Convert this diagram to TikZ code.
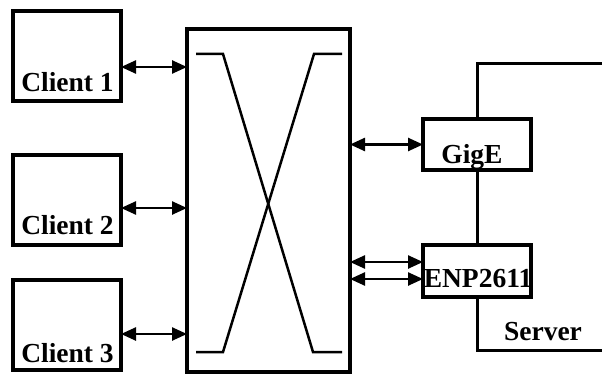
\documentclass[tikz,border=0pt]{standalone}
\usepackage{fontspec}
\setmainfont{Liberation Serif}
\usetikzlibrary{arrows.meta}
\begin{document}
\begin{tikzpicture}[x=1pt,y=-1pt,
  box/.style={draw,line width=4pt,minimum width=108pt,inner sep=0pt,outer sep=0pt},
  lbl/.style={font=\fontsize{27.5}{27.5}\bfseries\selectfont,inner sep=0pt,anchor=base},
  link/.style={{Triangle[length=15pt,width=13pt]}-{Triangle[length=15pt,width=13pt]},line width=2.5pt},
  wire/.style={line width=3pt},
  xline/.style={line width=2.5pt,line join=miter}]
\useasboundingbox (0,0) rectangle (602,377);
% clients
\node[box,minimum height=90pt] (c1) at (67,56) {};
\node[box,minimum height=90pt] (c2) at (67,200) {};
\node[box,minimum height=90pt] (c3) at (67,325) {};
\node[lbl] (c1t) at (67.5,92) {Client 1};
\node[lbl] (c2t) at (67.5,234) {Client 2};
\node[lbl] (c3t) at (67.5,362) {Client 3};
% switch
\node[box,minimum width=163pt,minimum height=343pt] (sw) at (268.5,200.5) {};
\draw[xline] (196,54) -- (223,54) -- (313,352) -- (342,352);
\draw[xline] (342,54) -- (314,54) -- (223,352) -- (196,352);
% server boards
\node[box,minimum height=51pt] (gige) at (477,144.5) {};
\node[box,minimum height=52pt] (enp) at (477,271) {};
\node[lbl] (gt) at (472,163) {GigE};
\node[lbl] (et) at (478,287) {ENP2611};
\node[lbl] (st) at (543,340) {Server};
% server outline
\coordinate (s1) at (602,64);
\coordinate (s2) at (602,350);
\draw[wire] (gige.north) -- (gige.north |- s1) -- (s1);
\draw[wire] (gige.south) -- (enp.north);
\draw[wire] (enp.south) -- (enp.south |- s2) -- (s2);
% links
\draw[link] ([yshift=-11pt]c1.east) -- ([yshift=-11pt]c1.east -| sw.west);
\draw[link] ([yshift=-8pt]c2.east) -- ([yshift=-8pt]c2.east -| sw.west);
\draw[link] ([yshift=-9pt]c3.east) -- ([yshift=-9pt]c3.east -| sw.west);
\draw[link] (gige.west -| sw.east) -- (gige.west);
\draw[link] ([yshift=9pt]enp.west -| sw.east) -- ([yshift=9pt]enp.west);
\draw[link] ([yshift=-8pt]enp.west -| sw.east) -- ([yshift=-8pt]enp.west);
\end{tikzpicture}
\end{document}
